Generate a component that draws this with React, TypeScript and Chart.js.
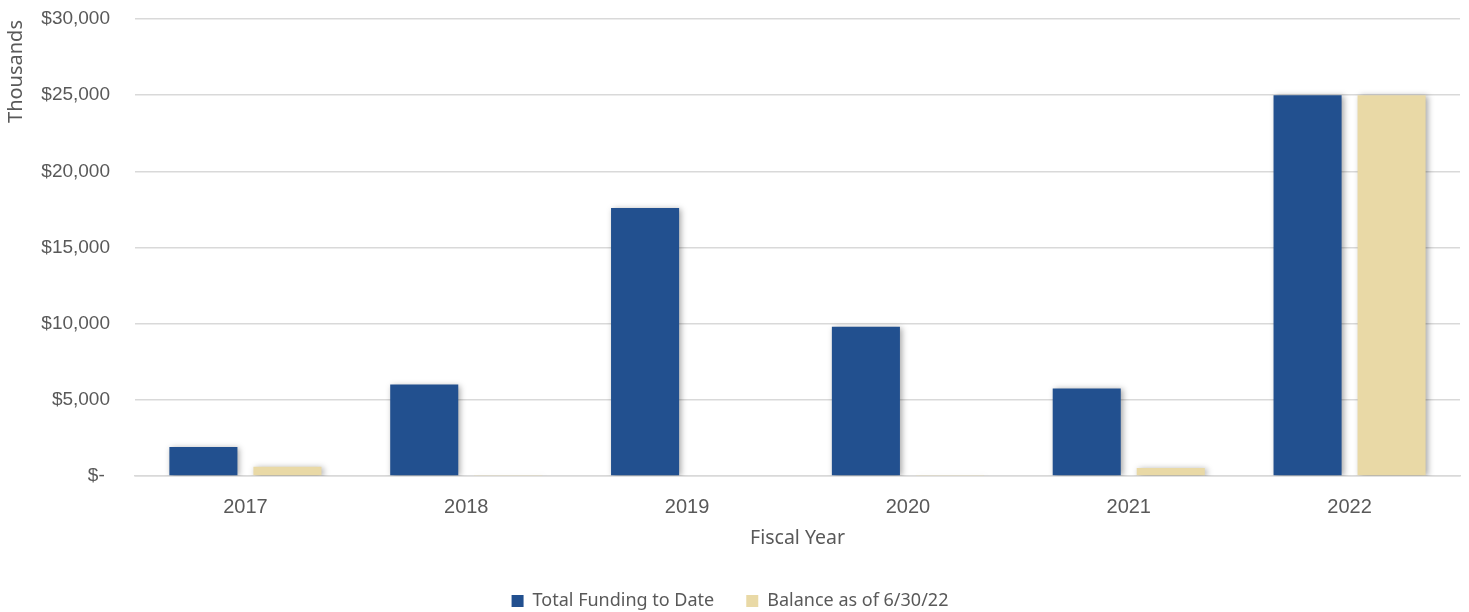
import React, { useEffect, useRef } from "react";
import { Chart, registerables } from "chart.js";

Chart.register(...registerables);

const categories = ["2017", "2018", "2019", "2020", "2021", "2022"];
const totalFunding = [1900, 6000, 17600, 9800, 5750, 25000];
const balance = [600, 40, 0, 40, 520, 25000];
const yTicks = [0, 5000, 10000, 15000, 20000, 25000, 30000];

const seriesNames = ["Total Funding to Date", "Balance as of 6/30/22"];
const colors = ["#22508F", "#E9D9A6"];
const yTitle = "Thousands";
const xTitle = "Fiscal Year";

const fmt = (v: number) => (v === 0 ? "$- " : "$" + v.toLocaleString("en-US"));

const textColor = "#595959";
const sansFont = "'Noto Sans', sans-serif";
const arialFont = "'Liberation Sans', Arial, sans-serif";

const shadowPlugin = {
  id: "barShadow",
  beforeDatasetsDraw(chart: any) {
    const ctx = chart.ctx;
    ctx.save();
    ctx.shadowColor = "rgba(0,0,0,0.35)";
    ctx.shadowBlur = 6;
    ctx.shadowOffsetX = 2;
    ctx.shadowOffsetY = 1;
  },
  afterDatasetsDraw(chart: any) {
    chart.ctx.restore();
  },
};

const yTitlePlugin = {
  id: "yTitleTop",
  afterDraw(chart: any) {
    const ctx = chart.ctx;
    ctx.save();
    ctx.translate(16, chart.chartArea.top + 52.5);
    ctx.rotate(-Math.PI / 2);
    ctx.fillStyle = textColor;
    ctx.font = `20px ${sansFont}`;
    ctx.textAlign = "center";
    ctx.textBaseline = "middle";
    ctx.fillText(yTitle, 0, 0);
    ctx.restore();
  },
};

export default function App() {
  const ref = useRef<HTMLCanvasElement | null>(null);
  useEffect(() => {
    document.body.style.margin = "0";
    const chart = new Chart(ref.current!, {
      type: "bar",
      data: {
        labels: categories,
        datasets: [
          {
            label: seriesNames[0],
            data: totalFunding,
            backgroundColor: colors[0],
            categoryPercentage: 0.761,
            barPercentage: 0.81,
          },
          {
            label: seriesNames[1],
            data: balance,
            backgroundColor: colors[1],
            categoryPercentage: 0.761,
            barPercentage: 0.81,
          },
        ],
      },
      plugins: [shadowPlugin, yTitlePlugin],
      options: {
        animation: false,
        responsive: true,
        maintainAspectRatio: false,
        layout: { padding: { top: 19, right: 9, left: 0, bottom: -8 } },
        plugins: {
          tooltip: { enabled: false },
          legend: {
            position: "bottom",
            labels: {
              boxWidth: 12,
              boxHeight: 12,
              padding: 32,
              color: textColor,
              font: { family: sansFont, size: 18 },
            },
          },
        },
        scales: {
          x: {
            afterFit: (axis: any) => {
              axis.height = 84;
            },
            grid: { display: false, drawTicks: false },
            border: { display: true, color: "#D9D9D9", width: 1.5 },
            ticks: {
              color: textColor,
              padding: 19,
              font: { family: arialFont, size: 20 },
            },
            title: {
              display: true,
              text: xTitle,
              color: textColor,
              font: { family: sansFont, size: 19.5 },
              padding: { top: 0, bottom: 10 },
            },
          },
          y: {
            min: 0,
            max: 30000,
            afterBuildTicks: (axis: any) => {
              axis.ticks = yTicks.map((v) => ({ value: v }));
            },
            afterFit: (axis: any) => {
              axis.width = 135;
            },
            grid: {
              color: "#D9D9D9",
              lineWidth: 1.5,
              drawTicks: true,
              tickLength: 25,
              tickColor: "rgba(0,0,0,0)",
            },
            border: { display: false },
            ticks: {
              color: textColor,
              padding: 0,
              font: { family: arialFont, size: 19 },
              callback: (v: any) => fmt(Number(v)),
            },
          },
        },
      },
    });
    return () => chart.destroy();
  }, []);
  return (
    <div style={{ width: 1469, height: 612, position: "relative" }}>
      <canvas ref={ref} />
    </div>
  );
}
